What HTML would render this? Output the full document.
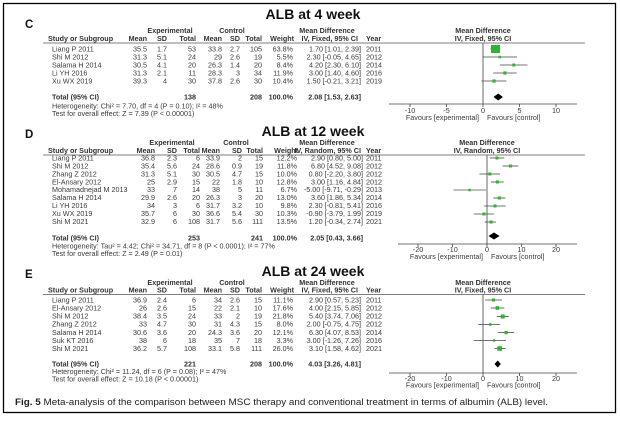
<!DOCTYPE html>
<html><head><meta charset="utf-8"><style>
html,body{margin:0;padding:0;background:#fff;}
svg{display:block;font-family:"Liberation Sans",Arial,sans-serif;}
.t{font-size:7.2px;fill:#3a3a3a;}
.h{font-size:7.2px;fill:#333;font-weight:bold;}
.e{text-anchor:end;}
.m{text-anchor:middle;}
.ti{font-size:14px;font-weight:bold;fill:#111;text-anchor:middle;}
.lb{font-size:11.5px;font-weight:bold;fill:#111;}
</style></head><body>
<svg width="620" height="425" viewBox="0 0 620 425">
<rect x="3.5" y="3.5" width="612" height="409" fill="#fff" stroke="#000" stroke-width="1.3"/>

<!-- ===== C ===== -->
<text class="lb" x="25" y="28">C</text>
<text class="ti" x="313" y="19">ALB at 4 week</text>
<text class="h m" x="170" y="33">Experimental</text>
<text class="h m" x="232" y="33">Control</text>
<text class="h m" x="327" y="33">Mean Difference</text>
<text class="h m" x="483" y="33">Mean Difference</text>
<g class="h">
<text x="48" y="41">Study or Subgroup</text>
<text class="e" x="147" y="41">Mean</text><text class="e" x="167" y="41">SD</text><text class="e" x="196" y="41">Total</text>
<text class="e" x="222" y="41">Mean</text><text class="e" x="240" y="41">SD</text><text class="e" x="262" y="41">Total</text>
<text class="e" x="294" y="41">Weight</text><text class="e" x="358" y="41">IV, Fixed, 95% CI</text><text x="366" y="41">Year</text>
<text class="m" x="483" y="41">IV, Fixed, 95% CI</text>
</g>
<line x1="43" y1="43" x2="585" y2="43" stroke="#555" stroke-width="0.8"/>
<g class="t">
<text x="52" y="51.5">Liang P 2011</text><text class="e" x="147" y="51.5">35.5</text><text class="e" x="167" y="51.5">1.7</text><text class="e" x="196" y="51.5">53</text><text class="e" x="222" y="51.5">33.8</text><text class="e" x="240" y="51.5">2.7</text><text class="e" x="262" y="51.5">105</text><text class="e" x="293" y="51.5">63.8%</text><text class="e" x="361" y="51.5">1.70 [1.01, 2.39]</text><text x="366" y="51.5">2011</text>
<text x="52" y="59.5">Shi M 2012</text><text class="e" x="147" y="59.5">31.3</text><text class="e" x="167" y="59.5">5.1</text><text class="e" x="196" y="59.5">24</text><text class="e" x="222" y="59.5">29</text><text class="e" x="240" y="59.5">2.6</text><text class="e" x="262" y="59.5">19</text><text class="e" x="293" y="59.5">5.5%</text><text class="e" x="361" y="59.5">2.30 [-0.05, 4.65]</text><text x="366" y="59.5">2012</text>
<text x="52" y="67.5">Salama H 2014</text><text class="e" x="147" y="67.5">30.5</text><text class="e" x="167" y="67.5">4.1</text><text class="e" x="196" y="67.5">20</text><text class="e" x="222" y="67.5">26.3</text><text class="e" x="240" y="67.5">1.4</text><text class="e" x="262" y="67.5">20</text><text class="e" x="293" y="67.5">8.4%</text><text class="e" x="361" y="67.5">4.20 [2.30, 6.10]</text><text x="366" y="67.5">2014</text>
<text x="52" y="75.5">Li YH 2016</text><text class="e" x="147" y="75.5">31.3</text><text class="e" x="167" y="75.5">2.1</text><text class="e" x="196" y="75.5">11</text><text class="e" x="222" y="75.5">28.3</text><text class="e" x="240" y="75.5">3</text><text class="e" x="262" y="75.5">34</text><text class="e" x="293" y="75.5">11.9%</text><text class="e" x="361" y="75.5">3.00 [1.40, 4.60]</text><text x="366" y="75.5">2016</text>
<text x="52" y="83.5">Xu WX 2019</text><text class="e" x="147" y="83.5">39.3</text><text class="e" x="167" y="83.5">4</text><text class="e" x="196" y="83.5">30</text><text class="e" x="222" y="83.5">37.8</text><text class="e" x="240" y="83.5">2.6</text><text class="e" x="262" y="83.5">30</text><text class="e" x="293" y="83.5">10.4%</text><text class="e" x="361" y="83.5">1.50 [-0.21, 3.21]</text><text x="366" y="83.5">2019</text>
<text x="52" y="108.5">Heterogeneity: Chi² = 7.70, df = 4 (P = 0.10); I² = 48%</text>
<text x="52" y="116">Test for overall effect: Z = 7.39 (P &lt; 0.00001)</text>
<text class="m" x="410" y="113">-10</text><text class="m" x="446.5" y="113">-5</text><text class="m" x="483" y="113">0</text><text class="m" x="519.5" y="113">5</text><text class="m" x="556" y="113">10</text>
<text class="e" x="479" y="120">Favours [experimental]</text><text x="487" y="120">Favours [control]</text>
</g>
<g class="h"><text x="52" y="99.5">Total (95% CI)</text><text class="e" x="196" y="99.5">138</text><text class="e" x="262" y="99.5">208</text><text class="e" x="293" y="99.5">100.0%</text><text class="e" x="361" y="99.5">2.08 [1.53, 2.63]</text></g>
<g stroke="#444" stroke-width="0.8">
<line x1="483" y1="43" x2="483" y2="104"/>
<line x1="389" y1="104" x2="577" y2="104"/>
<line x1="410" y1="104" x2="410" y2="107"/><line x1="446.5" y1="104" x2="446.5" y2="107"/><line x1="483" y1="104" x2="483" y2="107"/><line x1="519.5" y1="104" x2="519.5" y2="107"/><line x1="556" y1="104" x2="556" y2="107"/>
<line x1="490.4" y1="49" x2="500.4" y2="49"/>
<line x1="482.6" y1="57" x2="517" y2="57"/>
<line x1="499.8" y1="65" x2="527.5" y2="65"/>
<line x1="493.2" y1="73" x2="516.6" y2="73"/>
<line x1="481.5" y1="81" x2="506.4" y2="81"/>
</g>
<g fill="#2db52d">
<rect x="491" y="45" width="9" height="8"/>
<rect x="498.5" y="55.8" width="2.5" height="2.5"/>
<rect x="512.3" y="63.5" width="3" height="3"/>
<rect x="503.3" y="71.4" width="3.2" height="3.2"/>
<rect x="492.4" y="79.4" width="3.2" height="3.2"/>
</g>
<polygon points="493.5,97 498.2,93.5 502.9,97 498.2,100.5" fill="#000"/>

<!-- ===== D ===== -->
<text class="lb" x="25" y="138">D</text>
<text class="ti" x="313" y="136">ALB at 12 week</text>
<text class="h m" x="172" y="145">Experimental</text>
<text class="h m" x="236" y="145">Control</text>
<text class="h m" x="327" y="145">Mean Difference</text>
<text class="h m" x="487" y="145">Mean Difference</text>
<g class="h">
<text x="48" y="153">Study or Subgroup</text>
<text class="e" x="155" y="153">Mean</text><text class="e" x="177" y="153">SD</text><text class="e" x="200" y="153">Total</text>
<text class="e" x="220" y="153">Mean</text><text class="e" x="242" y="153">SD</text><text class="e" x="263" y="153">Total</text>
<text class="e" x="298" y="153">Weight</text><text class="e" x="361" y="153">IV, Random, 95% CI</text><text x="366" y="153">Year</text>
<text class="m" x="487" y="153">IV, Random, 95% CI</text>
</g>
<line x1="43" y1="155" x2="585" y2="155" stroke="#555" stroke-width="0.8"/>
<g class="t">
<text x="52" y="160.5">Liang P 2011</text><text class="e" x="155" y="160.5">36.8</text><text class="e" x="177" y="160.5">2.3</text><text class="e" x="200" y="160.5">6</text><text class="e" x="220" y="160.5">33.9</text><text class="e" x="242" y="160.5">2</text><text class="e" x="263" y="160.5">15</text><text class="e" x="297" y="160.5">12.2%</text><text class="e" x="363" y="160.5">2.90 [0.80, 5.00]</text><text x="366" y="160.5">2011</text>
<text x="52" y="168.5">Shi M 2012</text><text class="e" x="155" y="168.5">35.4</text><text class="e" x="177" y="168.5">5.6</text><text class="e" x="200" y="168.5">24</text><text class="e" x="220" y="168.5">28.6</text><text class="e" x="242" y="168.5">0.9</text><text class="e" x="263" y="168.5">19</text><text class="e" x="297" y="168.5">11.8%</text><text class="e" x="363" y="168.5">6.80 [4.52, 9.08]</text><text x="366" y="168.5">2012</text>
<text x="52" y="176.5">Zhang Z 2012</text><text class="e" x="155" y="176.5">31.3</text><text class="e" x="177" y="176.5">5.1</text><text class="e" x="200" y="176.5">30</text><text class="e" x="220" y="176.5">30.5</text><text class="e" x="242" y="176.5">4.7</text><text class="e" x="263" y="176.5">15</text><text class="e" x="297" y="176.5">10.0%</text><text class="e" x="363" y="176.5">0.80 [-2.20, 3.80]</text><text x="366" y="176.5">2012</text>
<text x="52" y="184.5">El-Ansary 2012</text><text class="e" x="155" y="184.5">25</text><text class="e" x="177" y="184.5">2.9</text><text class="e" x="200" y="184.5">15</text><text class="e" x="220" y="184.5">22</text><text class="e" x="242" y="184.5">1.8</text><text class="e" x="263" y="184.5">10</text><text class="e" x="297" y="184.5">12.8%</text><text class="e" x="363" y="184.5">3.00 [1.16, 4.84]</text><text x="366" y="184.5">2012</text>
<text x="52" y="192">Mohamadnejad  M 2013</text><text class="e" x="155" y="192">33</text><text class="e" x="177" y="192">7</text><text class="e" x="200" y="192">14</text><text class="e" x="220" y="192">38</text><text class="e" x="242" y="192">5</text><text class="e" x="263" y="192">11</text><text class="e" x="297" y="192">6.7%</text><text class="e" x="363" y="192">-5.00 [-9.71, -0.29]</text><text x="366" y="192">2013</text>
<text x="52" y="200">Salama H 2014</text><text class="e" x="155" y="200">29.9</text><text class="e" x="177" y="200">2.6</text><text class="e" x="200" y="200">20</text><text class="e" x="220" y="200">26.3</text><text class="e" x="242" y="200">3</text><text class="e" x="263" y="200">20</text><text class="e" x="297" y="200">13.0%</text><text class="e" x="363" y="200">3.60 [1.86, 5.34]</text><text x="366" y="200">2014</text>
<text x="52" y="208">Li YH 2016</text><text class="e" x="155" y="208">34</text><text class="e" x="177" y="208">3</text><text class="e" x="200" y="208">6</text><text class="e" x="220" y="208">31.7</text><text class="e" x="242" y="208">3.2</text><text class="e" x="263" y="208">10</text><text class="e" x="297" y="208">9.8%</text><text class="e" x="363" y="208">2.30 [-0.81, 5.41]</text><text x="366" y="208">2016</text>
<text x="52" y="216">Xu WX 2019</text><text class="e" x="155" y="216">35.7</text><text class="e" x="177" y="216">6</text><text class="e" x="200" y="216">30</text><text class="e" x="220" y="216">36.6</text><text class="e" x="242" y="216">5.4</text><text class="e" x="263" y="216">30</text><text class="e" x="297" y="216">10.3%</text><text class="e" x="363" y="216">-0.90 [-3.79, 1.99]</text><text x="366" y="216">2019</text>
<text x="52" y="224">Shi M 2021</text><text class="e" x="155" y="224">32.9</text><text class="e" x="177" y="224">6</text><text class="e" x="200" y="224">108</text><text class="e" x="220" y="224">31.7</text><text class="e" x="242" y="224">5.6</text><text class="e" x="263" y="224">111</text><text class="e" x="297" y="224">13.5%</text><text class="e" x="363" y="224">1.20 [-0.34, 2.74]</text><text x="366" y="224">2021</text>
<text x="52" y="248.5">Heterogeneity: Tau² = 4.42; Chi² = 34.71, df = 8 (P &lt; 0.0001); I² = 77%</text>
<text x="52" y="256">Test for overall effect: Z = 2.49 (P = 0.01)</text>
<text class="m" x="418" y="252">-20</text><text class="m" x="452.5" y="252">-10</text><text class="m" x="487" y="252">0</text><text class="m" x="521.5" y="252">10</text><text class="m" x="556" y="252">20</text>
<text class="e" x="483" y="259">Favours [experimental]</text><text x="491" y="259">Favours [control]</text>
</g>
<g class="h"><text x="52" y="240.5">Total (95% CI)</text><text class="e" x="200" y="240.5">253</text><text class="e" x="263" y="240.5">241</text><text class="e" x="297" y="240.5">100.0%</text><text class="e" x="363" y="240.5">2.05 [0.43, 3.66]</text></g>
<g stroke="#444" stroke-width="0.8">
<line x1="487" y1="155" x2="487" y2="244"/>
<line x1="398" y1="244" x2="577" y2="244"/>
<line x1="418" y1="244" x2="418" y2="247"/><line x1="452.5" y1="244" x2="452.5" y2="247"/><line x1="487" y1="244" x2="487" y2="247"/><line x1="521.5" y1="244" x2="521.5" y2="247"/><line x1="556" y1="244" x2="556" y2="247"/>
<line x1="489.8" y1="158" x2="504.3" y2="158"/>
<line x1="502.6" y1="166" x2="518.3" y2="166"/>
<line x1="479.4" y1="174" x2="500.1" y2="174"/>
<line x1="491" y1="182" x2="503.7" y2="182"/>
<line x1="453.5" y1="190" x2="486" y2="190" stroke="#999" stroke-width="1.2"/>
<line x1="493.4" y1="198" x2="505.4" y2="198"/>
<line x1="484.2" y1="206" x2="505.7" y2="206"/>
<line x1="473.9" y1="214" x2="493.9" y2="214"/>
<line x1="484.7" y1="222" x2="495.9" y2="222"/>
</g>
<g fill="#2db52d">
<rect x="495.5" y="156.5" width="3" height="3"/><rect x="508.9" y="164.5" width="3" height="3"/><rect x="488.3" y="172.5" width="3" height="3"/><rect x="495.9" y="180.5" width="3" height="3"/><rect x="468.3" y="188.8" width="2.5" height="2.5"/><rect x="497.9" y="196.5" width="3" height="3"/><rect x="493.5" y="204.5" width="3" height="3"/><rect x="482.4" y="212.5" width="3" height="3"/><rect x="489.6" y="220.5" width="3" height="3"/>
</g>
<polygon points="488.5,236 494,232.5 499.6,236 494,239.5" fill="#000"/>

<!-- ===== E ===== -->
<text class="lb" x="25" y="278">E</text>
<text class="ti" x="313" y="276">ALB at 24 week</text>
<text class="h m" x="170" y="285">Experimental</text>
<text class="h m" x="232" y="285">Control</text>
<text class="h m" x="327" y="285">Mean Difference</text>
<text class="h m" x="483" y="285">Mean Difference</text>
<g class="h">
<text x="48" y="292.5">Study or Subgroup</text>
<text class="e" x="147" y="292.5">Mean</text><text class="e" x="167" y="292.5">SD</text><text class="e" x="196" y="292.5">Total</text>
<text class="e" x="222" y="292.5">Mean</text><text class="e" x="240" y="292.5">SD</text><text class="e" x="262" y="292.5">Total</text>
<text class="e" x="294" y="292.5">Weight</text><text class="e" x="358" y="292.5">IV, Fixed, 95% CI</text><text x="366" y="292.5">Year</text>
<text class="m" x="483" y="292.5">IV, Fixed, 95% CI</text>
</g>
<line x1="43" y1="294.5" x2="585" y2="294.5" stroke="#555" stroke-width="0.8"/>
<g class="t">
<text x="52" y="302.5">Liang P 2011</text><text class="e" x="147" y="302.5">36.9</text><text class="e" x="167" y="302.5">2.4</text><text class="e" x="196" y="302.5">6</text><text class="e" x="222" y="302.5">34</text><text class="e" x="240" y="302.5">2.6</text><text class="e" x="262" y="302.5">15</text><text class="e" x="293" y="302.5">11.1%</text><text class="e" x="361" y="302.5">2.90 [0.57, 5.23]</text><text x="366" y="302.5">2011</text>
<text x="52" y="310.5">El-Ansary 2012</text><text class="e" x="147" y="310.5">26</text><text class="e" x="167" y="310.5">2.6</text><text class="e" x="196" y="310.5">15</text><text class="e" x="222" y="310.5">22</text><text class="e" x="240" y="310.5">2.1</text><text class="e" x="262" y="310.5">10</text><text class="e" x="293" y="310.5">17.6%</text><text class="e" x="361" y="310.5">4.00 [2.15, 5.85]</text><text x="366" y="310.5">2012</text>
<text x="52" y="318.5">Shi M 2012</text><text class="e" x="147" y="318.5">38.4</text><text class="e" x="167" y="318.5">3.5</text><text class="e" x="196" y="318.5">24</text><text class="e" x="222" y="318.5">33</text><text class="e" x="240" y="318.5">2</text><text class="e" x="262" y="318.5">19</text><text class="e" x="293" y="318.5">21.8%</text><text class="e" x="361" y="318.5">5.40 [3.74, 7.06]</text><text x="366" y="318.5">2012</text>
<text x="52" y="326.5">Zhang Z 2012</text><text class="e" x="147" y="326.5">33</text><text class="e" x="167" y="326.5">4.7</text><text class="e" x="196" y="326.5">30</text><text class="e" x="222" y="326.5">31</text><text class="e" x="240" y="326.5">4.3</text><text class="e" x="262" y="326.5">15</text><text class="e" x="293" y="326.5">8.0%</text><text class="e" x="361" y="326.5">2.00 [-0.75, 4.75]</text><text x="366" y="326.5">2012</text>
<text x="52" y="335">Salama H 2014</text><text class="e" x="147" y="335">30.6</text><text class="e" x="167" y="335">3.6</text><text class="e" x="196" y="335">20</text><text class="e" x="222" y="335">24.3</text><text class="e" x="240" y="335">3.6</text><text class="e" x="262" y="335">20</text><text class="e" x="293" y="335">12.1%</text><text class="e" x="361" y="335">6.30 [4.07, 8.53]</text><text x="366" y="335">2014</text>
<text x="52" y="343">Suk KT 2016</text><text class="e" x="147" y="343">38</text><text class="e" x="167" y="343">6</text><text class="e" x="196" y="343">18</text><text class="e" x="222" y="343">35</text><text class="e" x="240" y="343">7</text><text class="e" x="262" y="343">18</text><text class="e" x="293" y="343">3.3%</text><text class="e" x="361" y="343">3.00 [-1.26, 7.26]</text><text x="366" y="343">2016</text>
<text x="52" y="351">Shi M 2021</text><text class="e" x="147" y="351">36.2</text><text class="e" x="167" y="351">5.7</text><text class="e" x="196" y="351">108</text><text class="e" x="222" y="351">33.1</text><text class="e" x="240" y="351">5.8</text><text class="e" x="262" y="351">111</text><text class="e" x="293" y="351">26.0%</text><text class="e" x="361" y="351">3.10 [1.58, 4.62]</text><text x="366" y="351">2021</text>
<text x="52" y="374">Heterogeneity: Chi² = 11.24, df = 6 (P = 0.08); I² = 47%</text>
<text x="52" y="381.5">Test for overall effect: Z = 10.18 (P &lt; 0.00001)</text>
<text class="m" x="410" y="381">-20</text><text class="m" x="446.5" y="381">-10</text><text class="m" x="483" y="381">0</text><text class="m" x="519.5" y="381">10</text><text class="m" x="556" y="381">20</text>
<text class="e" x="479" y="387.5">Favours [experimental]</text><text x="487" y="387.5">Favours [control]</text>
</g>
<g class="h"><text x="52" y="366.5">Total (95% CI)</text><text class="e" x="196" y="366.5">221</text><text class="e" x="262" y="366.5">208</text><text class="e" x="293" y="366.5">100.0%</text><text class="e" x="361" y="366.5">4.03 [3.26, 4.81]</text></g>
<g stroke="#444" stroke-width="0.8">
<line x1="483" y1="294.5" x2="483" y2="373"/>
<line x1="389" y1="373" x2="577" y2="373"/>
<line x1="410" y1="373" x2="410" y2="376"/><line x1="446.5" y1="373" x2="446.5" y2="376"/><line x1="483" y1="373" x2="483" y2="376"/><line x1="519.5" y1="373" x2="519.5" y2="376"/><line x1="556" y1="373" x2="556" y2="376"/>
<line x1="485.1" y1="300" x2="502.1" y2="300"/>
<line x1="490.8" y1="308" x2="504.4" y2="308"/>
<line x1="496.7" y1="316.5" x2="508.8" y2="316.5"/>
<line x1="478.3" y1="324.5" x2="499.8" y2="324.5"/>
<line x1="497.9" y1="332.5" x2="514.1" y2="332.5"/>
<line x1="473.8" y1="340.5" x2="506" y2="340.5"/>
<line x1="494.5" y1="348.5" x2="505.6" y2="348.5"/>
</g>
<g fill="#2db52d">
<rect x="492" y="298.5" width="3" height="3"/><rect x="495.6" y="306.2" width="3.6" height="3.6"/><rect x="500.7" y="314.5" width="4" height="4"/><rect x="488.9" y="323.2" width="2.6" height="2.6"/><rect x="504.5" y="331" width="3.2" height="3.2"/><rect x="492.8" y="339.3" width="2.4" height="2.4"/><rect x="497.3" y="346.2" width="4.6" height="4.6"/>
</g>
<polygon points="494.5,364 497.7,360.5 500.9,364 497.7,367.5" fill="#000"/>

<text x="15" y="405" textLength="533" lengthAdjust="spacingAndGlyphs" style="font-size:8.8px;fill:#222"><tspan font-weight="bold">Fig. 5</tspan> Meta-analysis of the comparison between MSC therapy and conventional treatment in terms of albumin (ALB) level.</text>
</svg>
</body></html>
